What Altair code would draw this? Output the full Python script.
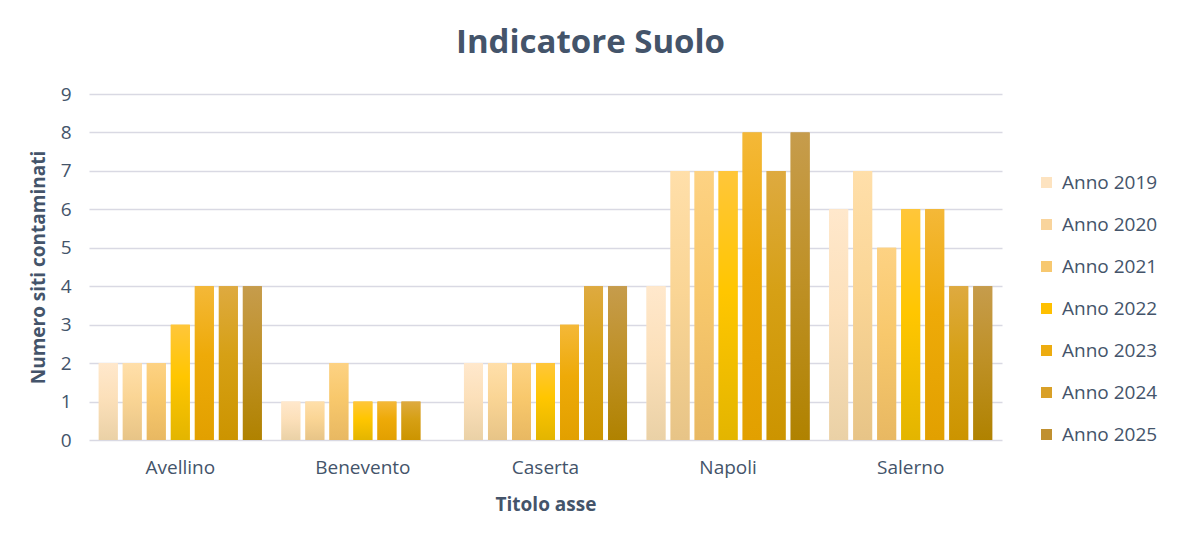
import altair as alt
import pandas as pd

province = ["Avellino", "Benevento", "Caserta", "Napoli", "Salerno"]
anni = ["Anno 2019", "Anno 2020", "Anno 2021", "Anno 2022", "Anno 2023", "Anno 2024", "Anno 2025"]

valori = {
    "Anno 2019": [2, 1, 2, 4, 6],
    "Anno 2020": [2, 1, 2, 7, 7],
    "Anno 2021": [2, 2, 2, 7, 5],
    "Anno 2022": [3, 1, 2, 7, 6],
    "Anno 2023": [4, 1, 3, 8, 6],
    "Anno 2024": [4, 1, 4, 7, 4],
    "Anno 2025": [4, 0, 4, 8, 4],
}

# flat colours for the legend, gradient stops (top, middle, bottom) for the bars
colori = ["#FDE3C0", "#F9D49C", "#F7C870", "#FFC000", "#EDAC10", "#D9A027", "#C09030"]
sfumature = [
    ["#FFE8CC", "#FCE0BA", "#EAD1A6"],
    ["#FFDFAA", "#FAD595", "#E7C487"],
    ["#FDD283", "#F8C86C", "#E8B862"],
    ["#FFC63A", "#FFC600", "#E3B500"],
    ["#F4B838", "#EEAA08", "#E2A000"],
    ["#DEAA40", "#D6A015", "#CC9400"],
    ["#C69C4C", "#BF9128", "#B08200"],
]

df = pd.DataFrame(
    [(p, a, valori[a][i]) for a in anni for i, p in enumerate(province)],
    columns=["provincia", "anno", "valore"],
)

testo = "#44546A"
font = "Open Sans"

x = alt.X(
    "provincia:N",
    sort=province,
    scale=alt.Scale(paddingInner=0.107, paddingOuter=0.0535),
    axis=alt.Axis(
        title="Titolo asse",
        labelAngle=0,
        labelFontSize=19,
        labelColor=testo,
        labelPadding=18,
        titleFontSize=19,
        titleColor=testo,
        titleFontWeight="bold",
        titlePadding=18,
        domain=False,
        ticks=False,
    ),
)
xoff = alt.XOffset(
    "anno:N",
    scale=alt.Scale(domain=anni, paddingInner=0.21, paddingOuter=0),
)
y = alt.Y(
    "valore:Q",
    scale=alt.Scale(domain=[0, 9], nice=False),
    axis=alt.Axis(
        title="Numero siti contaminati",
        values=[0, 1, 2, 3, 4, 5, 6, 7, 8, 9],
        labelFontSize=19,
        labelColor=testo,
        labelPadding=18,
        titleFontSize=19,
        titleColor=testo,
        titleFontWeight="bold",
        titlePadding=12,
        domain=False,
        ticks=False,
        gridColor="#D9D9E3",
        gridWidth=1.5,
    ),
)

base = alt.Chart(df).mark_bar().encode(
    x=x,
    xOffset=xoff,
    y=y,
    color=alt.Color(
        "anno:N",
        scale=alt.Scale(domain=anni, range=colori),
        legend=alt.Legend(
            title=None,
            orient="none",
            legendX=948,
            legendY=79,
            symbolType="square",
            symbolSize=121,
            symbolStrokeWidth=0,
            labelFontSize=19,
            labelColor=testo,
            labelOffset=6,
            rowPadding=22,
        ),
    ),
)

livelli = [base]
for anno, stops in zip(anni, sfumature):
    grad = alt.Gradient(
        gradient="linear",
        stops=[
            alt.GradientStop(color=stops[0], offset=0),
            alt.GradientStop(color=stops[1], offset=0.45),
            alt.GradientStop(color=stops[2], offset=1),
        ],
        x1=0, x2=0, y1=0, y2=1,
    )
    livelli.append(
        alt.Chart(df).transform_filter(alt.datum.anno == anno).mark_bar(color=grad).encode(
            x=x,
            xOffset=xoff,
            y=y,
        )
    )

chart = alt.layer(*livelli).properties(
    width=913,
    height=346,
    title=alt.TitleParams(
        "Indicatore Suolo",
        fontSize=33,
        fontWeight="bold",
        color=testo,
        anchor="middle",
        dx=45,
        offset=25,
    ),
    padding={"left": 81, "top": 86, "right": 174, "bottom": 97},
    autosize=alt.AutoSizeParams(type="none"),
).configure(
    font=font,
).configure_view(
    stroke=None,
)

chart.save("out.html", embed_options={"renderer": "svg", "actions": False})
